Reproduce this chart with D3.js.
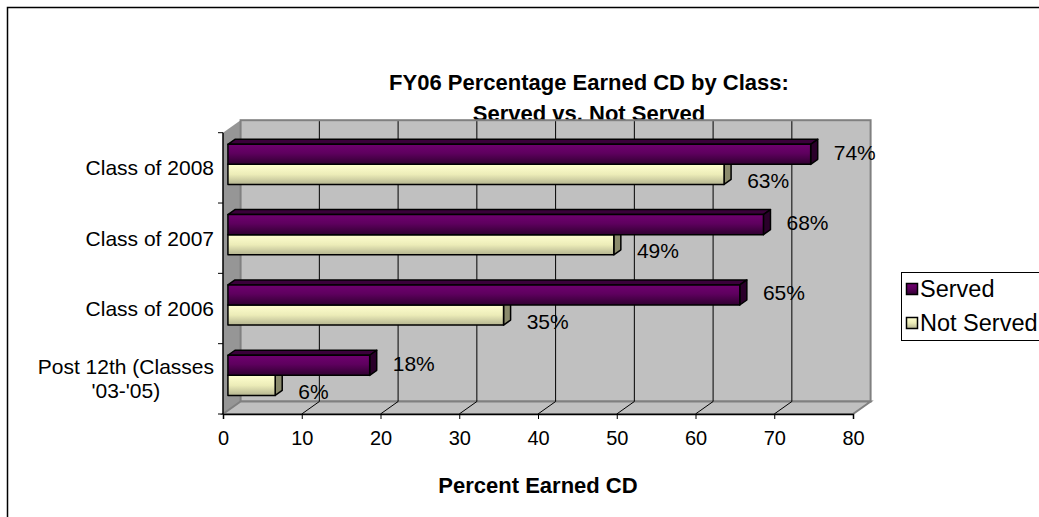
<!DOCTYPE html>
<html>
<head>
<meta charset="utf-8">
<script src="https://cdn.jsdelivr.net/npm/d3@7"></script>
<style>
  body { margin: 0; background: #fff; }
  text { font-family: Arial, "Liberation Sans", sans-serif; fill: #000; }
</style>
</head>
<body>
<div id="chart-div"></div>
<script>
// values
var categories = ["Class of 2008", "Class of 2007", "Class of 2006", "Post 12th (Classes '03-'05)"]
var categoryLines = [["Class of 2008"], ["Class of 2007"], ["Class of 2006"], ["Post 12th (Classes", "'03-'05)"]]
var seriesNames = ["Served", "Not Served"]
var served = [74, 68, 65, 18]
var notServed = [63, 49, 35, 6]
var xTicks = [0, 10, 20, 30, 40, 50, 60, 70, 80]

var W = 1039, H = 517

// 3d depth of the plot box and where the bars sit in it
var depth = {dx: 17.6, dy: -12.5}
var f1 = 0.28, f2 = 0.68

var svg = d3.select("#chart-div")
  .append("svg")
  .attr("width", W)
  .attr("height", H)

var defs = svg.append("defs")
function grad(id, stops) {
  var g = defs.append("linearGradient").attr("id", id)
    .attr("x1", 0).attr("y1", 0).attr("x2", 0).attr("y2", 1)
  stops.forEach(function(s) {
    g.append("stop").attr("offset", s[0]).attr("stop-color", s[1])
  })
}
grad("gServed", [[0, "#700070"], [0.45, "#5e005e"], [1, "#300030"]])
grad("gNot", [[0, "#ffffd0"], [0.5, "#ececb8"], [1, "#b4b490"]])

var colors = {
  "Served": {front: "url(#gServed)", top: "#3a003a", side: "#2a002a"},
  "Not Served": {front: "url(#gNot)", top: "#b8b894", side: "#8a8a6c"}
}

// chart frame
svg.append("rect")
  .attr("x", 7.5).attr("y", 7.5)
  .attr("width", 1200).attr("height", 700)
  .attr("fill", "#fff")
  .attr("stroke", "#000")
  .attr("stroke-width", 1.5)

// title first: the plot box covers the bottom of its second line
var title = svg.append("text")
  .attr("text-anchor", "middle")
  .style("font-size", "22px")
  .style("font-weight", "bold")
title.append("tspan").attr("x", 589).attr("y", 90).text("FY06 Percentage Earned CD by Class:")
title.append("tspan").attr("x", 589).attr("y", 121).text("Served vs. Not Served")

var x = d3.scaleLinear()
  .domain([0, 80])
  .range([223, 853])

var y = d3.scaleBand()
  .domain(categories)
  .range([132.7, 414])
  .padding(0)

var ySub = d3.scaleBand()
  .domain(seriesNames)
  .range([0, y.bandwidth()])
  .paddingInner(0)
  .paddingOuter(0.75)

var x0 = x.range()[0], x1 = x.range()[1]
var yTop = y.range()[0], yBot = y.range()[1]

// side wall
svg.append("polygon")
  .attr("points", [[x0, yTop], [x0 + depth.dx, yTop + depth.dy], [x0 + depth.dx, yBot + depth.dy], [x0, yBot]].join(" "))
  .attr("fill", "#969696")

// back wall
svg.append("rect")
  .attr("x", x0 + depth.dx).attr("y", yTop + depth.dy)
  .attr("width", x1 - x0).attr("height", yBot - yTop)
  .attr("fill", "#c0c0c0")
  .attr("stroke", "#808080")
  .attr("stroke-width", 2)

// floor
svg.append("polygon")
  .attr("points", [[x0, yBot], [x1, yBot], [x1 + depth.dx, yBot + depth.dy], [x0 + depth.dx, yBot + depth.dy]].join(" "))
  .attr("fill", "#c0c0c0")
  .attr("stroke", "#808080")
  .attr("stroke-width", 2)

// gridlines on wall and floor
var grid = svg.append("g").attr("stroke", "#000").attr("stroke-width", 1)
xTicks.filter(function(d) { return d > 0 && d < 80 }).forEach(function(d) {
  grid.append("line")
    .attr("x1", x(d) + depth.dx).attr("x2", x(d) + depth.dx)
    .attr("y1", yTop + depth.dy + 1).attr("y2", yBot + depth.dy)
  grid.append("line")
    .attr("x1", x(d)).attr("x2", x(d) + depth.dx)
    .attr("y1", yBot).attr("y2", yBot + depth.dy)
})

// axes
svg.append("g")
  .attr("transform", "translate(0," + yBot + ")")
  .call(d3.axisBottom(x).tickValues(xTicks).tickSize(5).tickPadding(12))
  .call(function(g) {
    g.select(".domain").attr("stroke", "#000").attr("stroke-width", 1.5)
    g.selectAll(".tick line").attr("stroke", "#000")
    g.selectAll(".tick text").style("font-size", "20px").attr("font-family", null)
  })

svg.append("line")
  .attr("x1", x0).attr("x2", x0)
  .attr("y1", yTop).attr("y2", yBot)
  .attr("stroke", "#000").attr("stroke-width", 1.5)

var bounds = categories.map(function(c) { return y(c) }).concat([yBot])
svg.append("g").selectAll("line")
  .data(bounds)
  .enter().append("line")
  .attr("x1", x0 - 5).attr("x2", x0)
  .attr("y1", function(d) { return d }).attr("y2", function(d) { return d })
  .attr("stroke", "#000")

// category labels, block right aligned, lines centred in block
categories.forEach(function(c, i) {
  var lines = categoryLines[i]
  var cy = y(c) + y.bandwidth() / 2
  var lh = 24
  var t = svg.append("text").style("font-size", "21px").attr("text-anchor", "middle")
  lines.forEach(function(l, j) {
    t.append("tspan").attr("x", 0)
      .attr("y", cy + 7.5 + (j - (lines.length - 1) / 2) * lh)
      .text(l)
  })
  var w = d3.max(t.selectAll("tspan").nodes(), function(n) { return n.getComputedTextLength() })
  t.selectAll("tspan").attr("x", 214 - w / 2)
})

// bars
var ox1 = f1 * depth.dx, oy1 = f1 * depth.dy
var ddx = (f2 - f1) * depth.dx, ddy = (f2 - f1) * depth.dy

var rows = []
categories.forEach(function(c, i) {
  rows.push({cat: c, series: "Not Served", value: notServed[i]})
  rows.push({cat: c, series: "Served", value: served[i]})
})

var bars = svg.append("g")
  .attr("stroke", "#000")
  .attr("stroke-width", 1.5)
  .attr("stroke-linejoin", "round")

rows.forEach(function(d) {
  var bx0 = x(0) + ox1, bx1 = x(d.value) + ox1
  var by0 = y(d.cat) + ySub(d.series) + oy1
  var by1 = by0 + ySub.bandwidth()
  var col = colors[d.series]
  var g = bars.append("g")
  g.append("polygon")
    .attr("points", [[bx0, by0], [bx1, by0], [bx1 + ddx, by0 + ddy], [bx0 + ddx, by0 + ddy]].join(" "))
    .attr("fill", col.top)
  g.append("polygon")
    .attr("points", [[bx1, by0], [bx1 + ddx, by0 + ddy], [bx1 + ddx, by1 + ddy], [bx1, by1]].join(" "))
    .attr("fill", col.side)
  g.append("rect")
    .attr("x", bx0).attr("y", by0)
    .attr("width", bx1 - bx0).attr("height", by1 - by0)
    .attr("fill", col.front)

  var ly = (by0 + by1) / 2 + 7.5 + (d.series == "Served" ? -2 : 6)
  svg.append("text")
    .attr("x", x(d.value) + 28)
    .attr("y", ly)
    .style("font-size", "21px")
    .text(d.value + "%")
})

// axis title
svg.append("text")
  .attr("x", (x0 + x1) / 2)
  .attr("y", 493)
  .attr("text-anchor", "middle")
  .style("font-size", "22px")
  .style("font-weight", "bold")
  .text("Percent Earned CD")

// legend
var legend = svg.append("g")
legend.append("rect")
  .attr("x", 901.5).attr("y", 272.5)
  .attr("width", 200).attr("height", 68)
  .attr("fill", "#fff")
  .attr("stroke", "#000")

seriesNames.forEach(function(s, i) {
  var ly = 297 + i * 34
  legend.append("rect")
    .attr("x", 906.5).attr("y", ly - 13.5)
    .attr("width", 11).attr("height", 11)
    .attr("fill", colors[s].front)
    .attr("stroke", "#000")
    .attr("stroke-width", 1.5)
  legend.append("text")
    .attr("x", 920).attr("y", ly)
    .style("font-size", "23.5px")
    .text(s)
})
</script>
</body>
</html>
